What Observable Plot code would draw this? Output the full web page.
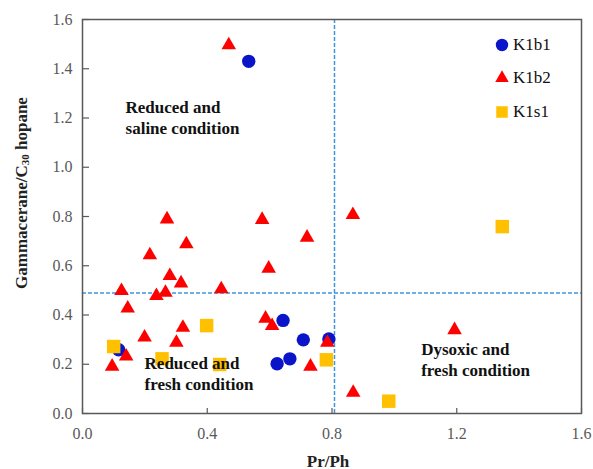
<!DOCTYPE html>
<html><head><meta charset="utf-8">
<script src="https://cdn.jsdelivr.net/npm/d3@7"></script>
<script src="https://cdn.jsdelivr.net/npm/@observablehq/plot@0.6"></script>
<style>
body{margin:0;background:#fff;}
#wrap{position:relative;width:593px;height:469px;}
#legend{position:absolute;left:494px;top:28px;font-family:"Liberation Serif",serif;font-size:17px;color:#111;}
#legend .row{display:flex;align-items:center;height:33.5px;}
#legend svg{margin-right:3px;}
</style>
</head><body><div id="wrap"></div>
<script>
// ---- data ----
const seriesNames = ["K1b1", "K1b2", "K1s1"];
const seriesColors = ["#0a14c8", "#ff0000", "#ffc000"];
const seriesSymbols = ["circle", "triangle", "square"];

const k1b1X = [0.533, 0.116, 0.643, 0.708, 0.790, 0.624, 0.665];
const k1b1Y = [1.430, 0.259, 0.378, 0.299, 0.303, 0.202, 0.222];

const k1b2X = [0.469, 0.271, 0.576, 0.867, 0.720, 0.333, 0.216, 0.280, 0.125, 0.316, 0.237, 0.266, 0.445,
               0.145, 0.199, 0.322, 0.301, 0.140, 0.095, 0.597, 0.587, 0.608, 0.785, 0.731, 0.868, 1.193];
const k1b2Y = [1.496, 0.789, 0.787, 0.807, 0.715, 0.688, 0.643, 0.559, 0.498, 0.529, 0.478, 0.491, 0.505,
               0.427, 0.309, 0.349, 0.288, 0.232, 0.191, 0.589, 0.386, 0.356, 0.288, 0.191, 0.085, 0.339];

const k1s1X = [1.346, 0.398, 0.100, 0.255, 0.440, 0.782, 0.982];
const k1s1Y = [0.759, 0.357, 0.272, 0.222, 0.199, 0.218, 0.050];

const xTicks = [0, 0.4, 0.8, 1.2, 1.6];
const yTicks = [0, 0.2, 0.4, 0.6, 0.8, 1.0, 1.2, 1.4, 1.6];
const thresholdPrPh = [0.808];
const thresholdGam = [0.489];

const annotationText = ["Reduced and\nsaline condition", "Reduced and\nfresh condition", "Dysoxic and\nfresh condition"];
const annotationX = [0.138, 0.199, 1.086];
const annotationY = [1.204, 0.166, 0.222];

// ---- build ----
const toRows = (xs, ys) => xs.map((x, i) => ({x, y: ys[i]}));
const k1b1 = toRows(k1b1X, k1b1Y);
const k1b2 = toRows(k1b2X, k1b2Y);
const k1s1 = toRows(k1s1X, k1s1Y);
const annotations = annotationText.map((t, i) => ({text: t, x: annotationX[i], y: annotationY[i]}));

const dash = {stroke: "#4194de", strokeWidth: 1.5, strokeDasharray: "4,2"};

const plot = Plot.plot({
  width: 593, height: 469,
  marginLeft: 82, marginRight: 12, marginTop: 19, marginBottom: 56,
  x: {domain: [0, 1.6]},
  y: {domain: [0, 1.6]},
  style: {fontFamily: "'Liberation Serif', serif", fontSize: "16px", color: "#595959", background: "#fff"},
  marks: [
    Plot.axisX({ticks: xTicks, tickFormat: d3.format(".1f"), tickSize: -5, tickPadding: 19, label: null, strokeWidth: 1.2, fontFamily: "Liberation Serif"}),
    Plot.axisY({ticks: yTicks, tickFormat: d3.format(".1f"), tickSize: -7, tickPadding: 17, label: null, strokeWidth: 1.2, fontFamily: "Liberation Serif"}),
    Plot.ruleX(thresholdPrPh, dash),
    Plot.ruleY(thresholdGam, dash),
    Plot.dot(k1b1, {x: "x", y: "y", r: 6.7, symbol: seriesSymbols[0], fill: seriesColors[0]}),
    Plot.dot(k1b2, {x: "x", y: "y", r: 5.4, symbol: seriesSymbols[1], fill: seriesColors[1]}),
    Plot.dot(k1s1, {x: "x", y: "y", r: 7.6, symbol: seriesSymbols[2], fill: seriesColors[2]}),
    Plot.text(annotations, {x: "x", y: "y", text: "text", textAnchor: "start", lineAnchor: "middle",
      lineHeight: 1.24, fontWeight: "bold", fontSize: 17, fill: "#111", fontFamily: "Liberation Serif"}),
    Plot.frame({stroke: "#595959", strokeWidth: 1.5})
  ]
});

const svg = d3.select(plot);
svg.append("text")
  .attr("x", 328).attr("y", 461)
  .attr("text-anchor", "middle").attr("dominant-baseline", "central")
  .attr("font-family", "Liberation Serif")
  .attr("font-weight", "bold").attr("font-size", 17).attr("fill", "#222")
  .text("Pr/Ph");
const yl = svg.append("text")
  .attr("transform", "translate(21,193) rotate(-90)")
  .attr("text-anchor", "middle").attr("dominant-baseline", "central")
  .attr("font-family", "Liberation Serif")
  .attr("font-weight", "bold").attr("font-size", 17).attr("fill", "#222");
yl.append("tspan").text("Gammacerane/C");
yl.append("tspan").attr("font-size", 11).attr("dy", 4).text("30");
yl.append("tspan").attr("dy", -4).text(" hopane");

const wrap = document.getElementById("wrap");
wrap.appendChild(plot);

// legend
const legend = document.createElement("div");
legend.id = "legend";
const legendSizes = [6.2, 5.0, 6.5];
const legendShapes = [d3.symbolCircle, d3.symbolTriangle, d3.symbolSquare];
seriesNames.forEach((name, i) => {
  const row = document.createElement("div");
  row.className = "row";
  const s = d3.create("svg").attr("width", 16).attr("height", 16);
  s.append("path")
    .attr("transform", "translate(8,8)")
    .attr("d", d3.symbol(legendShapes[i], Math.PI * legendSizes[i] * legendSizes[i])())
    .attr("fill", seriesColors[i]);
  row.appendChild(s.node());
  const t = document.createElement("span");
  t.textContent = name;
  row.appendChild(t);
  legend.appendChild(row);
});
wrap.appendChild(legend);
</script>
</body></html>
